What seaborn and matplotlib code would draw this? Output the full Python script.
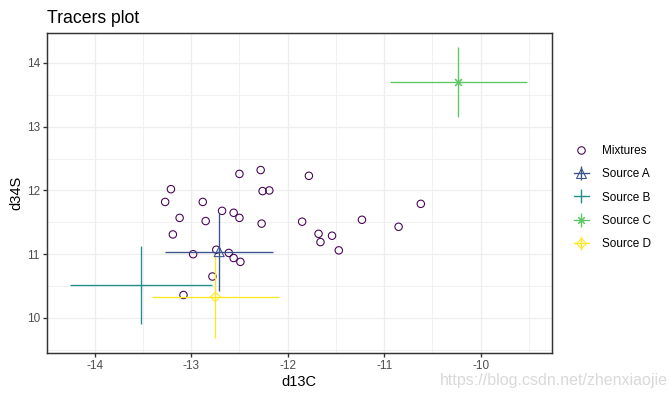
import numpy as np
import pandas as pd
import matplotlib
matplotlib.use("Agg")
import matplotlib.pyplot as plt
import seaborn as sns
from matplotlib.lines import Line2D
from matplotlib.legend_handler import HandlerTuple
from matplotlib.ticker import MultipleLocator

# ---------------- data ----------------
mix_d13C = [-13.21, -13.27, -12.88, -12.50, -12.28, -12.26, -12.19, -11.78,
            -12.68, -12.56, -12.50, -13.12, -12.85, -12.27, -11.85, -13.19,
            -11.68, -11.66, -11.54, -12.74, -12.98, -12.61, -12.56, -12.49,
            -12.78, -13.08, -11.47, -11.23, -10.85, -10.62]
mix_d34S = [12.02, 11.82, 11.82, 12.26, 12.32, 11.99, 12.00, 12.23,
            11.68, 11.65, 11.57, 11.57, 11.52, 11.48, 11.51, 11.31,
            11.32, 11.19, 11.29, 11.07, 11.00, 11.02, 10.94, 10.88,
            10.65, 10.36, 11.06, 11.54, 11.43, 11.79]

source_names = ["Source A", "Source B", "Source C", "Source D"]
source_d13C = [-12.71, -13.52, -10.23, -12.75]
source_d13C_sd = [0.56, 0.74, 0.71, 0.66]
source_d34S = [11.04, 10.52, 13.70, 10.33]
source_d34S_sd = [0.61, 0.61, 0.55, 0.64]

x_ticks = [-14, -13, -12, -11, -10]
y_ticks = [10, 11, 12, 13, 14]
group_labels = ["Mixtures"] + source_names
group_colors = ["#440154", "#3B528B", "#21908C", "#5DC863", "#FDE725"]

mix_df = pd.DataFrame({"d13C": mix_d13C, "d34S": mix_d34S})
src_df = pd.DataFrame({"source": source_names, "d13C": source_d13C,
                       "d13C_sd": source_d13C_sd, "d34S": source_d34S,
                       "d34S_sd": source_d34S_sd})

# ---------------- style ----------------
plt.rcParams["font.family"] = ["Liberation Sans", "DejaVu Sans"]

W, H, DPI = 669, 398, 96
fig = plt.figure(figsize=(W / DPI, H / DPI), dpi=DPI)
ax_l, ax_r, ax_t, ax_b = 46.5, 551.5, 32.7, 353.0
ax = fig.add_axes([ax_l / W, 1 - ax_b / H, (ax_r - ax_l) / W, (ax_b - ax_t) / H])

grid_c = "#EEEEEE"
dark = "#333333"

# mixtures
sns.scatterplot(data=mix_df, x="d13C", y="d34S", ax=ax, marker="o", s=31,
                facecolor="none", edgecolor=group_colors[0], linewidth=0.8,
                legend=False, zorder=3)

src_markers = ["^", "+", (8, 2, 0), "D"]
src_sizes = [56, 46, 46, 26]
for i, row in src_df.iterrows():
    c = group_colors[i + 1]
    ax.errorbar(row["d13C"], row["d34S"], xerr=row["d13C_sd"], yerr=row["d34S_sd"],
                fmt="none", ecolor=c, elinewidth=1.0, capsize=0, zorder=4)
    m = src_markers[i]
    sub = src_df.iloc[[i]]
    if m in ("^", "D"):
        sns.scatterplot(data=sub, x="d13C", y="d34S", ax=ax, marker=m,
                        s=src_sizes[i], facecolor="none", edgecolor=c,
                        linewidth=0.8, legend=False, zorder=5)
    else:
        sns.scatterplot(data=sub, x="d13C", y="d34S", ax=ax, marker=m,
                        s=src_sizes[i], color=c, linewidth=0.8,
                        legend=False, zorder=5)

ax.set_xlim(-14.5, -9.265)
ax.set_ylim(9.45, 14.475)
ax.set_xticks(x_ticks)
ax.set_xticklabels([f"{t}" for t in x_ticks])
ax.set_yticks(y_ticks)
ax.set_yticklabels([f"{t}" for t in y_ticks])
ax.xaxis.set_minor_locator(MultipleLocator(0.5))
ax.yaxis.set_minor_locator(MultipleLocator(0.5))
ax.grid(which="major", color=grid_c, linewidth=1.0, zorder=0)
ax.grid(which="minor", color=grid_c, linewidth=0.6, zorder=0)
ax.set_axisbelow(True)
ax.tick_params(which="major", length=2.75, width=1.0, color=dark,
               labelsize=8.8, labelcolor="#4D4D4D", pad=2.2)
ax.tick_params(which="minor", length=0)
for sp in ax.spines.values():
    sp.set_color(dark)
    sp.set_linewidth(1.1)

ax.set_xlabel("d13C", fontsize=11, labelpad=2.75, color="black")
ax.set_ylabel("d34S", fontsize=11, labelpad=2.75, color="black")
ax.set_title("Tracers plot", loc="left", fontsize=13.2, pad=7.6, color="black")

# legend
handles = [Line2D([], [], ls="none", marker="o", ms=5.6, mfc="none",
                  mec=group_colors[0], mew=0.8)]
leg_ms = [7.5, 6.8, 6.8, 5.1]
for i in range(4):
    c = group_colors[i + 1]
    m = src_markers[i]
    if m in ("^", "D"):
        h1 = Line2D([], [], color=c, lw=1.0, marker=m, ms=leg_ms[i],
                    mfc="none", mec=c, mew=0.8)
    else:
        h1 = Line2D([], [], color=c, lw=1.0, marker=m, ms=leg_ms[i],
                    mec=c, mew=0.8)
    h2 = Line2D([], [], ls="none", marker="|", ms=10, mec=c, mew=1.0)
    handles.append((h1, h2))

fig.legend(handles, group_labels, handler_map={tuple: HandlerTuple(ndivide=1)},
           loc="center left", bbox_to_anchor=(573.5 / W, 1 - 197.5 / H),
           frameon=False, fontsize=8.8, handlelength=1.36, handletextpad=1.1,
           labelspacing=0.95, borderpad=0, borderaxespad=0)

# watermark
fig.text(668 / W, 1 - 384.5 / H, "https://blog.csdn.net/zhenxiaojie",
         ha="right", va="baseline", fontsize=12, color="#D9D9D9")

fig.savefig("out.png", dpi=DPI)
